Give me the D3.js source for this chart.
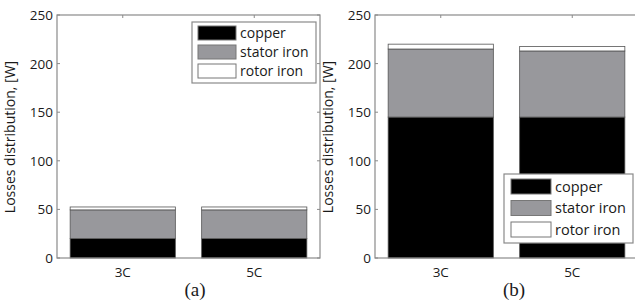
<!DOCTYPE html>
<html>
<head>
<meta charset="utf-8">
<script src="https://cdn.jsdelivr.net/npm/d3@7"></script>
<style>
  body { margin: 0; background: #fff; }
  svg { display: block; }
  text { font-family: "Open Sans", sans-serif; fill: #1a1a1a; }
</style>
</head>
<body>
<div id="chart"></div>
<script>
// data
const categories = ["3C", "5C"];
const seriesNames = ["copper", "stator iron", "rotor iron"];
const yTicks = [0, 50, 100, 150, 200, 250];

const copperA = [20, 20];
const statorA = [29.5, 29.5];
const rotorA = [3, 3];

const copperB = [145, 145];
const statorB = [70, 68];
const rotorB = [5, 4.5];

const colors = ["#000000", "#98989c", "#ffffff"];

const width = 635, height = 301;
const svg = d3.select("#chart").append("svg")
    .attr("width", width)
    .attr("height", height);

const y = d3.scaleLinear().domain([0, 250]).range([258, 15]);

function rowsOf(c, s, r) {
    return categories.map((cat, i) => ({ cat: cat, copper: c[i], "stator iron": s[i], "rotor iron": r[i] }));
}

function drawPanel(opts) {
    const x = d3.scaleBand()
        .domain(categories)
        .range([opts.left, opts.left + 263])
        .paddingInner(0.2)
        .paddingOuter(0.1);

    const g = svg.append("g");

    // bars
    const stacked = d3.stack().keys(seriesNames)(opts.rows);
    g.selectAll("g.layer")
        .data(stacked)
        .enter()
        .append("g")
        .attr("class", "layer")
        .attr("fill", (d, i) => colors[i])
        .selectAll("rect")
        .data(d => d)
        .enter()
        .append("rect")
        .attr("x", d => x(d.data.cat))
        .attr("width", x.bandwidth())
        .attr("y", d => y(d[1]))
        .attr("height", d => y(d[0]) - y(d[1]))
        .attr("stroke", "#555")
        .attr("stroke-width", 0.8);

    // box
    const x0 = opts.left, x1 = opts.left + 263;
    g.append("rect")
        .attr("x", x0).attr("y", y(250))
        .attr("width", x1 - x0).attr("height", y(0) - y(250))
        .attr("fill", "none")
        .attr("stroke", "#8a8a8a")
        .attr("stroke-width", 1.2);

    // y ticks, left and mirrored on the right
    g.selectAll("line.yt")
        .data(yTicks)
        .enter()
        .append("line")
        .attr("x1", x0).attr("x2", x0 + 3)
        .attr("y1", d => y(d)).attr("y2", d => y(d))
        .attr("stroke", "#8a8a8a");
    g.selectAll("line.yt2")
        .data(yTicks)
        .enter()
        .append("line")
        .attr("x1", x1).attr("x2", x1 - 3)
        .attr("y1", d => y(d)).attr("y2", d => y(d))
        .attr("stroke", "#8a8a8a");

    g.selectAll("text.ytl")
        .data(yTicks)
        .enter()
        .append("text")
        .attr("x", x0 - 4)
        .attr("y", d => y(d) + 5)
        .attr("text-anchor", "end")
        .style("font-size", "13.5px")
        .text(d => d);

    // x ticks on top
    g.selectAll("line.xt")
        .data(categories)
        .enter()
        .append("line")
        .attr("x1", d => x(d) + x.bandwidth() / 2)
        .attr("x2", d => x(d) + x.bandwidth() / 2)
        .attr("y1", y(250)).attr("y2", y(250) + 3)
        .attr("stroke", "#8a8a8a");

    g.selectAll("text.xtl")
        .data(categories)
        .enter()
        .append("text")
        .attr("x", d => x(d) + x.bandwidth() / 2)
        .attr("y", 277)
        .attr("text-anchor", "middle")
        .style("font-size", "13.5px")
        .text(d => d);

    // y label
    g.append("text")
        .attr("transform", `translate(${x0 - 42}, 137) rotate(-90)`)
        .attr("text-anchor", "middle")
        .style("font-size", "14px")
        .text("Losses distribution, [W]");

    // caption
    g.append("text")
        .attr("x", opts.captionX)
        .attr("y", 296)
        .attr("text-anchor", "middle")
        .style("font-family", "'Liberation Serif', serif")
        .style("font-size", "19px")
        .text(opts.caption);

    // legend
    const L = opts.legend;
    const leg = g.append("g").attr("transform", `translate(${L.x}, ${L.y})`);
    leg.append("rect")
        .attr("width", L.w).attr("height", L.h)
        .attr("fill", "#fff")
        .attr("stroke", "#8a8a8a")
        .attr("stroke-width", 1.2);
    const items = leg.selectAll("g.item")
        .data(seriesNames)
        .enter()
        .append("g")
        .attr("transform", (d, i) => `translate(${L.pad}, ${L.top + i * L.step})`);
    items.append("rect")
        .attr("width", L.sw).attr("height", L.sh)
        .attr("fill", (d, i) => colors[i])
        .attr("stroke", "#777")
        .attr("stroke-width", 1);
    items.append("text")
        .attr("x", L.sw + 4)
        .attr("y", L.sh / 2 + 5)
        .style("font-size", L.fs + "px")
        .text(d => d);
}

drawPanel({
    left: 57,
    rows: rowsOf(copperA, statorA, rotorA),
    caption: "(a)",
    captionX: 195,
    legend: { x: 192, y: 22, w: 124, h: 61, pad: 6, top: 4, step: 19, sw: 38, sh: 14, fs: 14 }
});

drawPanel({
    left: 375,
    rows: rowsOf(copperB, statorB, rotorB),
    caption: "(b)",
    captionX: 514,
    legend: { x: 504, y: 174, w: 129, h: 69, pad: 7, top: 5, step: 21.5, sw: 40, sh: 15, fs: 14.5 }
});
</script>
</body>
</html>
